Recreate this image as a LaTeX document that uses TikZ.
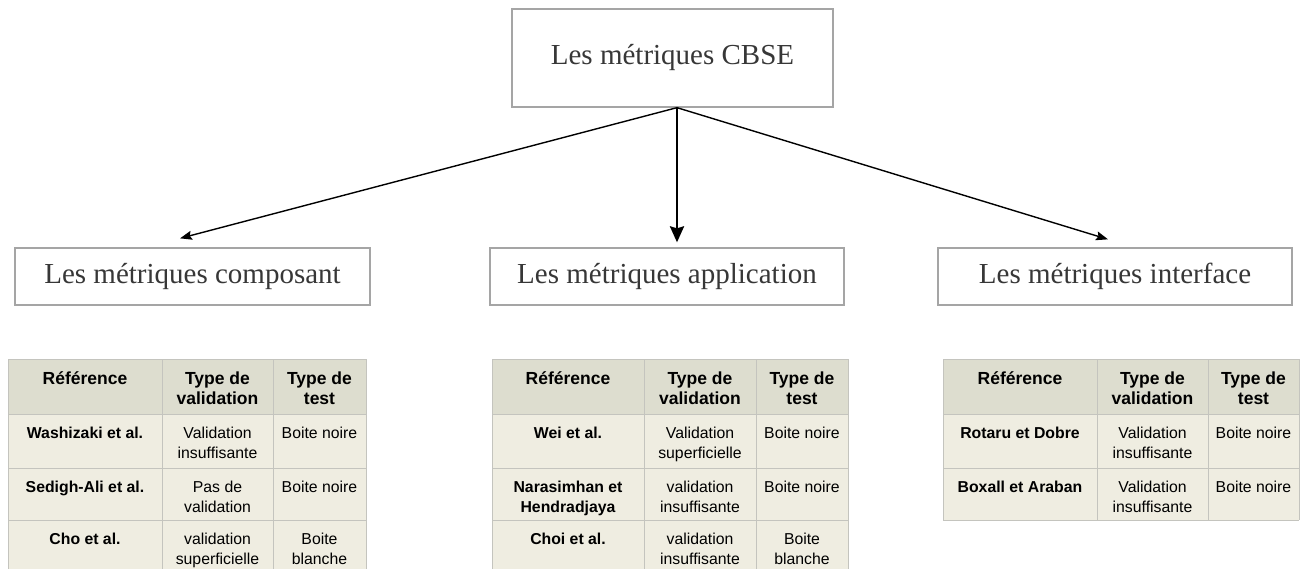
\documentclass[tikz,border=0pt]{standalone}
\usepackage{fontspec}
\setmainfont{Liberation Serif}
\newfontfamily\tabsans{Liberation Sans}
\usetikzlibrary{arrows.meta}

\definecolor{boxgray}{RGB}{165,165,165}
\definecolor{titletext}{RGB}{55,55,55}
\definecolor{headfill}{RGB}{221,221,207}
\definecolor{bodyfill}{RGB}{239,237,225}
\definecolor{gridgray}{RGB}{196,196,190}

\tikzset{
  titlebox/.style={draw=boxgray,line width=1.3pt,fill=white,inner sep=0pt,
    text=titletext,font=\fontsize{29}{32}\selectfont},
  link/.style={-{Stealth[length=12pt,width=9pt,inset=2pt]},line width=1.4pt},
  mainlink/.style={-{Stealth[length=16pt,width=14pt,inset=2pt]},line width=2.6pt},
  tabtxt/.style={anchor=north,align=center,inner sep=0pt},
  headtxt/.style={tabtxt,font=\tabsans\bfseries\fontsize{17.5}{20}\selectfont},
  nametxt/.style={tabtxt,font=\tabsans\bfseries\fontsize{15.8}{20}\selectfont},
  celltxt/.style={tabtxt,font=\tabsans\fontsize{15.8}{20}\selectfont},
  gridline/.style={gridgray,line width=1pt}
}

\begin{document}
\begin{tikzpicture}[x=1pt,y=-1pt]
\useasboundingbox (0,0) rectangle (1310,568);

% the four boxes
\node [titlebox,minimum width=321,minimum height=98] (cbse) at (672.5,58)  {Les métriques CBSE};
\node [titlebox,minimum width=355,minimum height=57] (comp) at (192.5,276.5) {Les métriques composant};
\node [titlebox,minimum width=354,minimum height=57] (app)  at (667,276.5)   {Les métriques application};
\node [titlebox,minimum width=354,minimum height=57] (intf) at (1115,276.5)  {Les métriques interface};

\coordinate (cbse-foot) at ([xshift=4.5pt]cbse.south);

\draw [link]     (cbse-foot) -- ([xshift=-12.5pt,yshift=9pt]comp.north);
\draw [mainlink] (cbse-foot) -- ([xshift=10pt,yshift=5pt]app.north);
\draw [link]     (cbse-foot) -- ([xshift=-7pt,yshift=8pt]intf.north);

% the three tables
\begin{scope}
\clip (0,0) rectangle (1310,568);
\foreach \tab/\xa/\xb/\xc/\xd/\yend in {comp/8/162/273/366/580, app/492/644/756/848/580, intf/943/1097/1208/1299/520} {
  \fill [headfill] (\xa,359) rectangle (\xd,414);
  \fill [bodyfill] (\xa,414) rectangle (\xd,\yend);
  \foreach \yy in {359,414,468,520}
    \draw [gridline] (\xa,\yy) -- (\xd,\yy);
  \foreach \xx in {\xa,\xb,\xc,\xd}
    \draw [gridline] (\xx,359) -- (\xx,\yend);
  \node [headtxt] (\tab-h1) at ({(\xa+\xb)/2},370) {\strut Référence};
  \node [headtxt] (\tab-h2) at ({(\xb+\xc)/2},370) {\strut Type de\\validation};
  \node [headtxt] (\tab-h3) at ({(\xc+\xd)/2},370) {\strut Type de\\test};
}

\foreach \row/\yt/\a/\b/\c in {1/424/{Washizaki et al.}/{Validation\\insuffisante}/{Boite noire},
    2/478/{Sedigh-Ali et al.}/{Pas de\\validation}/{Boite noire},
    3/530/{Cho et al.}/{validation\\superficielle}/{Boite\\blanche}} {
  \node [nametxt] (comp-\row-1) at (85,\yt)    {\strut\a};
  \node [celltxt] (comp-\row-2) at (217.5,\yt) {\strut\b};
  \node [celltxt] (comp-\row-3) at (319.5,\yt) {\strut\c};
}

\foreach \row/\yt/\a/\b/\c in {1/424/{Wei et al.}/{Validation\\superficielle}/{Boite noire},
    2/478/{Narasimhan et\\Hendradjaya}/{validation\\insuffisante}/{Boite noire},
    3/530/{Choi et al.}/{validation\\insuffisante}/{Boite\\blanche}} {
  \node [nametxt] (app-\row-1) at (568,\yt) {\strut\a};
  \node [celltxt] (app-\row-2) at (700,\yt) {\strut\b};
  \node [celltxt] (app-\row-3) at (802,\yt) {\strut\c};
}

\foreach \row/\yt/\a/\b/\c in {1/424/{Rotaru et Dobre}/{Validation\\insuffisante}/{Boite noire},
    2/478/{Boxall et Araban}/{Validation\\insuffisante}/{Boite noire}} {
  \node [nametxt] (intf-\row-1) at (1020,\yt)   {\strut\a};
  \node [celltxt] (intf-\row-2) at (1152.5,\yt) {\strut\b};
  \node [celltxt] (intf-\row-3) at (1253.5,\yt) {\strut\c};
}
\end{scope}
\end{tikzpicture}
\end{document}
